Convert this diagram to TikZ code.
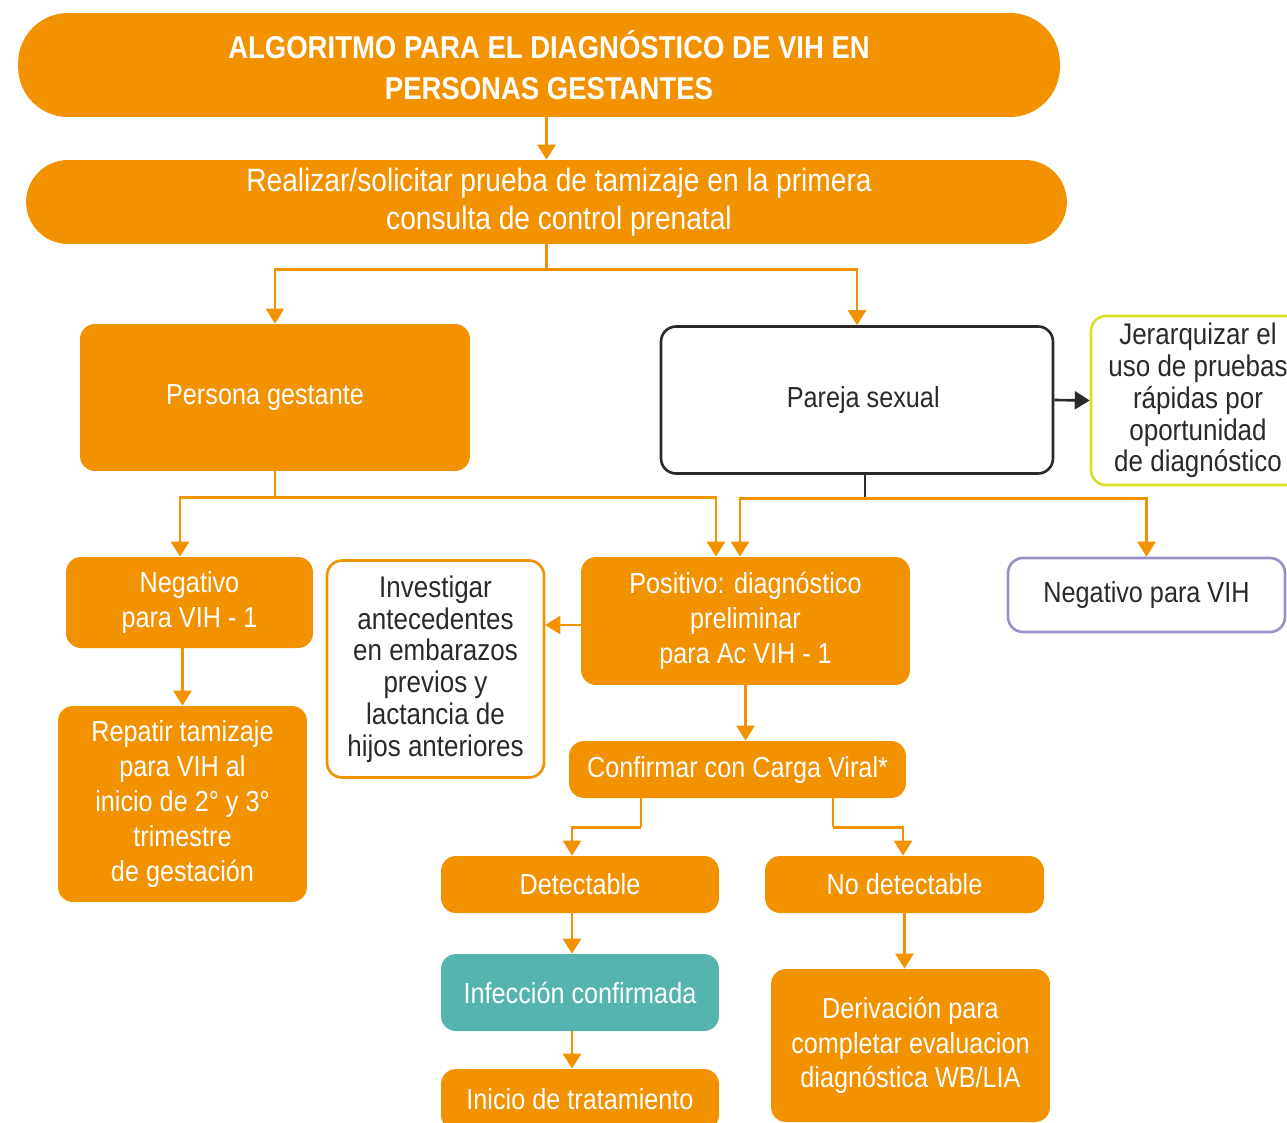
\documentclass[tikz,border=0pt]{standalone}
\usepackage{fontspec}
\setmainfont{Liberation Sans}[FakeStretch=0.87]
\usepackage{xcolor}
\definecolor{colorNaranja}{HTML}{F39200}
\definecolor{colorTurquesa}{HTML}{55B5AE}
\definecolor{colorTexto}{HTML}{2B2A29}
\definecolor{colorLima}{HTML}{D7DF23}
\definecolor{colorLila}{HTML}{9C8FC7}
\usepackage{tikz}
\usetikzlibrary{arrows.meta, positioning}
\tikzset{
  caja/.style={fill=colorNaranja, text=white, rounded corners=0.3cm, align=center, inner sep=0pt, font=\fontsize{16.5}{19.8}\selectfont},
  cajablanca/.style={caja, fill=white, text=colorTexto, draw=colorNaranja, line width=1.5pt},
  flecha/.style={draw=colorNaranja, line width=1.5pt, -{Triangle[width=0.36cm,length=0.3cm]}},
  linea/.style={draw=colorNaranja, line width=1.5pt},
}

\begin{document}
\begin{tikzpicture}[x=0.02cm, y=-0.02cm]
\useasboundingbox (0,0) rectangle (1287,1122);
\clip (0,0) rectangle (1287,1122);
% cabecera
\node[caja, rounded corners=1cm, minimum width=20.84cm, minimum height=2.08cm, font=\bfseries\fontsize{18}{23.2}\selectfont] (titulo) at (539,65) {\hspace*{0.4cm}ALGORITMO PARA EL DIAGNÓSTICO DE VIH EN\\\hspace*{0.4cm}PERSONAS GESTANTES};
\node[caja, rounded corners=0.84cm, minimum width=20.82cm, minimum height=1.68cm, font=\fontsize{18.4}{21.5}\selectfont] (tamizaje) at (546.5,202) {\hspace*{0.5cm}Realizar/solicitar prueba de tamizaje en la primera\\\hspace*{0.5cm}consulta de control prenatal};
% segundo nivel
\node[caja, minimum width=7.8cm, minimum height=2.94cm] (gestante) at (275,397.5) {Persona gestante\hspace*{0.4cm}};
\node[cajablanca, draw=colorTexto, minimum width=7.84cm, minimum height=2.94cm] (pareja) at (857,400) {\hspace*{0.25cm}Pareja sexual};
\node[cajablanca, draw=colorLima, minimum width=4.28cm, minimum height=3.38cm, font=\fontsize{17}{18.1}\selectfont] (jerarquizar) at (1198,400.5) {Jerarquizar el\\uso de pruebas\\rápidas por\\oportunidad\\de diagnóstico};
% resultados
\node[caja, minimum width=4.94cm, minimum height=1.82cm] (negativo1) at (189.5,602.5) {Negativo\\para VIH - 1};
\node[caja, minimum width=4.98cm, minimum height=3.92cm] (repetir) at (182.5,804) {Repatir tamizaje\\para VIH al\\inicio de 2° y 3°\\trimestre\\de gestación};
\node[cajablanca, minimum width=4.34cm, minimum height=4.34cm, font=\fontsize{17}{18.1}\selectfont] (investigar) at (435.5,669) {Investigar\\antecedentes\\en embarazos\\previos y\\lactancia de\\hijos anteriores};
\node[caja, minimum width=6.58cm, minimum height=2.56cm, font=\fontsize{16.5}{20.1}\selectfont] (positivo) at (745.5,621) {Positivo: diagnóstico\\preliminar\\para Ac VIH - 1};
\node[cajablanca, draw=colorLila, minimum width=5.54cm, minimum height=1.48cm] (negativovih) at (1146.5,595) {Negativo para VIH};
% carga viral
\node[caja, minimum width=6.74cm, minimum height=1.14cm] (confirmar) at (737.5,769.5) {Confirmar con Carga Viral*};
\node[caja, minimum width=5.56cm, minimum height=1.14cm] (detectable) at (580,884.5) {Detectable};
\node[caja, minimum width=5.58cm, minimum height=1.14cm] (nodetectable) at (904.5,884.5) {No detectable};
\node[caja, fill=colorTurquesa, minimum width=5.56cm, minimum height=1.54cm] (infeccion) at (580,992.5) {Infección confirmada};
\node[caja, minimum width=5.56cm, minimum height=1.22cm] (inicio) at (580,1099.5) {Inicio de tratamiento};
\node[caja, minimum width=5.58cm, minimum height=3.06cm] (derivacion) at (910.5,1045.5) {Derivación para\\completar evaluacion\\diagnóstica WB/LIA};

\draw[flecha] (titulo.south -| tamizaje.north) -- (tamizaje.north);
\draw[linea] (tamizaje.south) -- ++(0,25) coordinate (rt);
\draw[flecha] (rt) -| (gestante.north);
\draw[flecha] (rt) -| (pareja.north);
\draw[flecha, draw=colorTexto] (pareja.east) -- (jerarquizar.west);
\draw[linea] (gestante.south) -- ++(0,26) coordinate (rg);
\draw[flecha] (rg) -| ([xshift=-0.19cm]negativo1.north);
\draw[flecha] (rg) -| ([xshift=-0.59cm]positivo.north);
\draw[linea, draw=colorTexto] ([xshift=0.16cm]pareja.south) -- ++(0,24) coordinate (rp);
\draw[flecha] (rp) -| ([xshift=-0.11cm]positivo.north);
\draw[flecha] (rp) -| (negativovih.north);
\draw[flecha] (negativo1.south -| repetir.north) -- (repetir.north);
\coordinate (pi) at ([yshift=-0.08cm]positivo.west);
\draw[flecha] (pi) -- (pi -| investigar.east);
\draw[flecha] (positivo.south) -- (positivo.south |- confirmar.north);
\draw[linea] ([xshift=-1.93cm]confirmar.south) -- ++(0,29) coordinate (rc1);
\draw[flecha] (rc1) -| ([xshift=-0.16cm]detectable.north);
\draw[linea] ([xshift=1.91cm]confirmar.south) -- ++(0,29) coordinate (rc2);
\draw[flecha] (rc2) -| ([xshift=-0.03cm]nodetectable.north);
\draw[flecha] ([xshift=-0.16cm]detectable.south) -- ([xshift=-0.16cm]infeccion.north);
\draw[flecha] ([xshift=-0.16cm]infeccion.south) -- ([xshift=-0.16cm]inicio.north);
\draw[flecha] (nodetectable.south) -- (nodetectable.south |- derivacion.north);
\end{tikzpicture}
\end{document}
